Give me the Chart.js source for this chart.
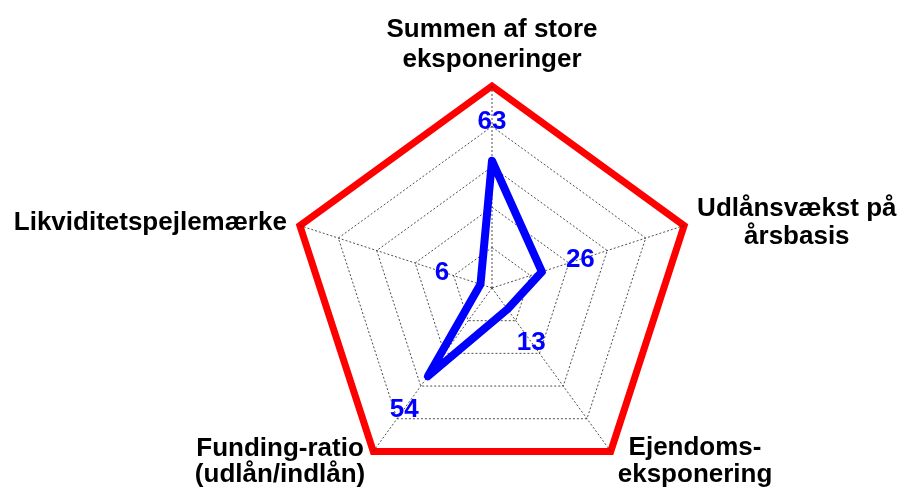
<!DOCTYPE html>
<html>
<head>
<meta charset="utf-8">
<script src="https://cdn.jsdelivr.net/npm/chart.js@4/dist/chart.umd.min.js"></script>
<style>
  html, body { margin: 0; padding: 0; background: #ffffff; }
  #wrap { width: 902px; height: 491px; position: relative; }
</style>
</head>
<body>
<div id="wrap"><canvas id="c" width="902" height="491"></canvas></div>
<script>
// ---- data ----
const categories = [
  ["Summen af store", "eksponeringer"],
  ["Udlånsvækst på", "årsbasis"],
  ["Ejendoms-", "eksponering"],
  ["Funding-ratio", "(udlån/indlån)"],
  ["Likviditetspejlemærke"]
];
const values = [63, 26, 13, 54, 6];
const scaleMin = 0;
const scaleMax = 100;
const scaleStep = 20;

const FONT = '"Liberation Sans", Arial, sans-serif';

// per-label placement relative to the axis end point (styling only)
const labelLayout = [
  { align: 'center', dx: 0,  dy: -49, lh: 30 },   // top
  { align: 'left',   dx: 13, dy: -10, lh: 28 },   // right
  { align: 'left',   dx: 7,  dy: 4,   lh: 27 },   // bottom-right
  { align: 'right',  dx: -8, dy: 5,   lh: 26 },   // bottom-left
  { align: 'right',  dx: -13, dy: 4,  lh: 28 }    // left
];

const pointLabelPlugin = {
  id: 'pointLabelPlugin',
  afterDraw(chart) {
    const scale = chart.scales.r;
    const ctx = chart.ctx;
    ctx.save();
    ctx.font = 'bold 26px ' + FONT;
    ctx.fillStyle = '#000000';
    ctx.textBaseline = 'alphabetic';
    ctx.textAlign = 'center';
    categories.forEach((lines, i) => {
      const p = scale.getPointPositionForValue(i, scaleMax);
      const L = labelLayout[i];
      const w = Math.max(...lines.map(t => ctx.measureText(t).width));
      let cx;
      if (L.align === 'center') cx = p.x + L.dx;
      else if (L.align === 'left') cx = p.x + L.dx + w / 2;
      else cx = p.x + L.dx - w / 2;
      lines.forEach((t, k) => {
        ctx.fillText(t, cx, p.y + L.dy + k * L.lh);
      });
    });
    // value labels
    ctx.font = 'bold 26px ' + FONT;
    ctx.fillStyle = '#0000FF';
    ctx.textBaseline = 'middle';
    ctx.textAlign = 'center';
    values.forEach((v, i) => {
      const p = scale.getPointPositionForValue(i, v + scaleStep);
      ctx.fillText(String(v), p.x, p.y + 1);
    });
    ctx.restore();
  }
};

new Chart(document.getElementById('c'), {
  type: 'radar',
  data: {
    labels: categories,
    datasets: [{
      data: values,
      borderColor: '#0000FF',
      backgroundColor: 'rgba(0,0,0,0)',
      borderWidth: 8,
      borderJoinStyle: 'round',
      borderCapStyle: 'round',
      fill: false,
      pointRadius: 0,
      pointHoverRadius: 0,
      tension: 0
    }]
  },
  options: {
    responsive: false,
    animation: false,
    events: [],
    layout: { padding: { left: 180, right: 98, top: 86, bottom: 1 } },
    plugins: { legend: { display: false }, tooltip: { enabled: false } },
    scales: {
      r: {
        min: scaleMin,
        max: scaleMax,
        ticks: { stepSize: scaleStep, display: false },
        pointLabels: { display: false },
        grid: {
          color: (c) => c.tick && c.tick.value === scaleMax ? '#FF0000' : '#222222',
          lineWidth: (c) => c.tick && c.tick.value === scaleMax ? 7 : 0.8
        },
        border: {
          dash: (c) => c.tick && c.tick.value === scaleMax ? [] : [2, 2]
        },
        angleLines: {
          color: '#222222',
          lineWidth: 0.8,
          borderDash: [2, 2]
        }
      }
    }
  },
  plugins: [pointLabelPlugin]
});
</script>
</body>
</html>
